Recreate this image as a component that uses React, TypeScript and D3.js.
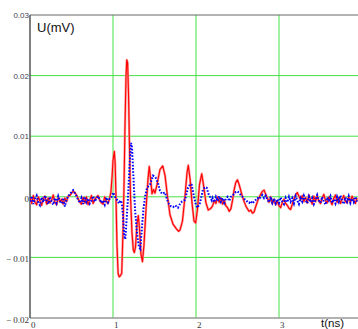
import React from "react";
import * as d3 from "d3";

const W = 358;
const H = 329;

const xTicks = [0, 1, 2, 3];
const yGrid = [0.02, 0.01, 0, -0.01];
const yTickValues = [0.03, 0.02, 0.01, 0, -0.01, -0.02];
const yTickLabels = ["0.03", "0.02", "0.01", "0", "\u2212 0.01", "\u2212 0.02"];

// Red trace U(t) (solid line)
const redSeries: [number, number][] = [
  [0.0, -0.0001], [0.02, -0.0011], [0.04, 0.0002], [0.06, -0.0009], [0.08, -0.0013], [0.1, 0.0],
  [0.12, -0.0007], [0.14, -0.0014], [0.16, -0.0003], [0.18, 0.0001], [0.2, -0.0012], [0.22, -0.0002],
  [0.24, -0.001], [0.26, -0.0006], [0.28, 0.0003], [0.3, -0.0009], [0.32, -0.0013], [0.34, -0.0001],
  [0.36, -0.0008], [0.38, -0.0004], [0.4, -0.0012], [0.42, -0.0002], [0.44, -0.0008], [0.46, 0.0001],
  [0.48, 0.0002], [0.5, 0.0006], [0.52, 0.0009], [0.54, 0.0007], [0.56, 0.0003], [0.58, -0.0003],
  [0.6, -0.0009], [0.62, -0.0012], [0.64, -0.0001], [0.66, -0.001], [0.68, 0.0], [0.7, -0.0013],
  [0.72, -0.0005], [0.74, 0.0002], [0.76, -0.0011], [0.78, -0.0004], [0.8, -0.0001], [0.82, 0.0002],
  [0.84, -0.0006], [0.86, -0.001], [0.88, -0.0012], [0.9, 0.0], [0.92, -0.0008], [0.94, -0.0011],
  [0.96, -0.0002], [0.975, 0.0008], [0.99, 0.0035], [1.0, 0.006], [1.016, 0.0075], [1.026, 0.0055],
  [1.036, 0.0], [1.048, -0.008], [1.062, -0.0127], [1.075, -0.0132], [1.09, -0.013], [1.105, -0.0126],
  [1.12, -0.006], [1.133, 0.002], [1.145, 0.012], [1.157, 0.02], [1.166, 0.0226], [1.176, 0.0221],
  [1.187, 0.017], [1.199, 0.008], [1.211, 0.0], [1.229, -0.006], [1.245, -0.0088], [1.257, -0.0092],
  [1.271, -0.0083], [1.289, -0.0045], [1.305, -0.0031], [1.319, -0.0052], [1.337, -0.0095], [1.355, -0.0107],
  [1.373, -0.008], [1.398, -0.002], [1.422, 0.003], [1.437, 0.005], [1.452, 0.0032], [1.47, 0.0005],
  [1.488, 0.0012], [1.506, 0.0006], [1.53, 0.002], [1.566, 0.0045], [1.599, 0.0051], [1.627, 0.0035],
  [1.657, 0.0], [1.687, -0.003], [1.723, -0.0045], [1.759, -0.0052], [1.79, -0.0057], [1.807, -0.0055],
  [1.837, -0.004], [1.867, 0.0], [1.892, 0.004], [1.907, 0.0052], [1.928, 0.003], [1.952, -0.001],
  [1.976, -0.004], [1.996, -0.0043], [2.018, -0.002], [2.042, 0.002], [2.069, 0.0038], [2.09, 0.002],
  [2.12, -0.001], [2.148, -0.0022], [2.18, -0.0019], [2.2, -0.0015], [2.22, -0.0006], [2.24, -0.0011],
  [2.26, 0.0], [2.28, -0.0009], [2.3, -0.0002], [2.32, -0.0012], [2.34, -0.0006], [2.36, -0.0015],
  [2.38, -0.0018], [2.4, -0.0024], [2.42, -0.002], [2.44, -0.0006], [2.46, 0.0012], [2.48, 0.0024],
  [2.5, 0.0028], [2.52, 0.002], [2.54, 0.001], [2.56, 0.0], [2.58, -0.0008], [2.6, -0.0015],
  [2.62, -0.002], [2.64, -0.0024], [2.66, -0.0022], [2.68, -0.0027], [2.7, -0.0025], [2.72, -0.0016],
  [2.74, -0.0008], [2.76, -0.0001], [2.78, 0.0004], [2.8, 0.0009], [2.82, 0.0011], [2.84, 0.0004],
  [2.86, -0.0002], [2.88, -0.0009], [2.9, 0.0], [2.92, -0.0011], [2.94, -0.0004], [2.96, -0.0013],
  [2.98, -0.0007], [3.0, -0.0015], [3.02, -0.0018], [3.04, -0.0009], [3.06, -0.0004], [3.08, -0.0011],
  [3.1, -0.0014], [3.12, -0.0019], [3.14, -0.0021], [3.16, -0.0012], [3.18, -0.0004], [3.2, 0.0003],
  [3.22, 0.0007], [3.24, 0.0001], [3.26, -0.0005], [3.28, 0.0002], [3.3, -0.0008], [3.32, -0.0001],
  [3.34, -0.001], [3.36, 0.0003], [3.38, -0.0005], [3.4, -0.0012], [3.42, 0.0001], [3.44, -0.0008],
  [3.46, 0.0002], [3.48, -0.0007], [3.5, -0.0011], [3.52, -0.0002], [3.54, 0.0004], [3.56, -0.0006],
  [3.58, -0.001], [3.6, 0.0], [3.62, -0.0007], [3.64, -0.0013], [3.66, -0.0002], [3.68, 0.0003],
  [3.7, -0.0009], [3.72, -0.0001], [3.74, -0.0011], [3.76, -0.0004], [3.78, 0.0002], [3.8, -0.0008],
  [3.82, -0.001], [3.84, 0.0], [3.86, -0.0009], [3.88, 0.0001], [3.9, -0.0005], [3.92, -0.0011],
  [3.94, -0.0002],
];

// Blue trace U(t) (dotted)
const blueSeries: [number, number][] = [
  [0.0, -0.0008], [0.02, 0.0001], [0.04, -0.0012], [0.06, -0.0003], [0.08, 0.0002], [0.1, -0.001],
  [0.12, -0.0014], [0.14, -0.0001], [0.16, -0.0009], [0.18, 0.0002], [0.2, -0.0006], [0.22, -0.0012],
  [0.24, 0.0], [0.26, -0.0008], [0.28, -0.0013], [0.3, -0.0002], [0.32, -0.001], [0.34, 0.0001],
  [0.36, -0.0007], [0.38, -0.0011], [0.4, -0.0002], [0.42, -0.0016], [0.44, -0.0005], [0.46, 0.0001],
  [0.48, 0.0004], [0.5, 0.0008], [0.52, 0.0011], [0.54, 0.0006], [0.56, 0.0001], [0.58, -0.0005],
  [0.6, -0.001], [0.62, -0.0002], [0.64, -0.0012], [0.66, 0.0], [0.68, -0.0009], [0.7, -0.0003],
  [0.72, -0.0011], [0.74, -0.0006], [0.76, 0.0001], [0.78, -0.0008], [0.8, -0.0003], [0.82, 0.0001],
  [0.84, -0.0004], [0.86, -0.001], [0.88, -0.0006], [0.9, -0.0013], [0.92, -0.0001], [0.94, -0.0009],
  [0.96, -0.0003], [0.98, -0.0001], [1.003, 0.0007], [1.024, 0.0], [1.048, -0.0005], [1.072, -0.0011],
  [1.09, -0.0006], [1.105, -0.001], [1.12, -0.003], [1.136, -0.0065], [1.148, -0.007], [1.163, -0.004],
  [1.181, 0.0], [1.199, 0.005], [1.217, 0.0089], [1.229, 0.0082], [1.247, 0.003], [1.265, -0.002],
  [1.289, -0.006], [1.313, -0.0083], [1.329, -0.0086], [1.349, -0.005], [1.367, -0.002], [1.386, 0.0],
  [1.41, 0.0015], [1.446, 0.002], [1.482, 0.0035], [1.512, 0.0032], [1.542, 0.0023], [1.566, 0.001],
  [1.59, 0.0005], [1.627, 0.0007], [1.65, -0.0004], [1.675, -0.0012], [1.7, -0.0016], [1.723, -0.0017],
  [1.75, -0.0014], [1.783, -0.0018], [1.81, -0.0011], [1.831, -0.0008], [1.867, -0.0005], [1.904, 0.0015],
  [1.93, 0.0021], [1.948, 0.002], [1.976, 0.0], [2.0, -0.0014], [2.018, -0.0018], [2.048, -0.001],
  [2.084, 0.0012], [2.11, 0.0016], [2.129, 0.0015], [2.15, 0.0005], [2.169, 0.0], [2.19, -0.0006],
  [2.2, -0.0002], [2.22, -0.0009], [2.24, 0.0], [2.26, -0.0007], [2.28, 0.0001], [2.3, -0.0008],
  [2.32, -0.0002], [2.34, -0.001], [2.36, -0.0003], [2.38, 0.0], [2.4, -0.0007], [2.42, 0.0],
  [2.44, 0.0002], [2.46, 0.0005], [2.48, 0.0008], [2.5, 0.0009], [2.52, 0.0006], [2.54, 0.0003],
  [2.56, 0.0], [2.58, -0.0003], [2.6, -0.0006], [2.62, -0.0008], [2.64, -0.001], [2.66, -0.0007],
  [2.68, -0.0011], [2.7, -0.0008], [2.72, -0.0005], [2.74, -0.0002], [2.76, -0.0004], [2.78, 0.0],
  [2.8, 0.0003], [2.82, -0.0002], [2.84, 0.0002], [2.86, -0.0005], [2.88, -0.0009], [2.9, 0.0],
  [2.92, -0.001], [2.94, -0.0003], [2.96, -0.0011], [2.98, -0.0004], [3.0, -0.001], [3.02, -0.0001],
  [3.04, -0.0008], [3.06, -0.0012], [3.08, -0.0002], [3.1, -0.0009], [3.12, 0.0], [3.14, -0.0008],
  [3.16, -0.0002], [3.18, -0.0011], [3.2, 0.0001], [3.22, -0.0006], [3.24, -0.0012], [3.26, -0.0002],
  [3.28, -0.0008], [3.3, 0.0002], [3.32, -0.0005], [3.34, -0.0011], [3.36, 0.0], [3.38, -0.0009],
  [3.4, -0.0002], [3.42, -0.0012], [3.44, -0.0005], [3.46, 0.0003], [3.48, -0.0006], [3.5, -0.001],
  [3.52, 0.0], [3.54, -0.0008], [3.56, -0.0013], [3.58, -0.0001], [3.6, -0.0006], [3.62, 0.0001],
  [3.64, -0.001], [3.66, -0.0004], [3.68, -0.0011], [3.7, 0.0], [3.72, -0.0008], [3.74, 0.0002],
  [3.76, -0.0007], [3.78, -0.0012], [3.8, -0.0001], [3.82, -0.0008], [3.84, 0.0001], [3.86, -0.001],
  [3.88, -0.0003], [3.9, -0.0009], [3.92, 0.0], [3.94, -0.0008],
];

const LEFT = 30;
const TOP = 15;
const BOTTOM = 318;

export default function App() {
  const x = d3.scaleLinear().domain([0, 4]).range([LEFT, 362]);
  const y = d3.scaleLinear().domain([-0.02, 0.03]).range([BOTTOM, TOP]);
  const line = d3
    .line<[number, number]>()
    .x((d) => x(d[0]))
    .y((d) => y(d[1]));

  const sans = "'Liberation Sans', Arial, sans-serif";
  const serif = "'Liberation Serif', 'Times New Roman', serif";

  return (
    <svg
      width={W}
      height={H}
      style={{ position: "absolute", left: 0, top: 0, background: "#fff" }}
    >
      <defs>
        <clipPath id="plot">
          <rect x={LEFT} y={TOP} width={W - LEFT} height={BOTTOM - TOP} />
        </clipPath>
      </defs>
      {/* grid */}
      {yGrid.map((v) => (
        <line key={"gy" + v} x1={LEFT} x2={W} y1={y(v)} y2={y(v)} stroke="#44e044" strokeWidth={1} />
      ))}
      {xTicks.filter((t) => t > 0).map((t) => (
        <line key={"gx" + t} x1={x(t)} x2={x(t)} y1={TOP} y2={BOTTOM} stroke="#44e044" strokeWidth={1} />
      ))}
      {/* frame */}
      <line x1={LEFT} x2={W} y1={TOP} y2={TOP} stroke="#666" strokeWidth={1} />
      <line x1={LEFT} x2={W} y1={BOTTOM} y2={BOTTOM} stroke="#999" strokeWidth={1.5} />
      <line x1={LEFT} x2={LEFT} y1={TOP} y2={BOTTOM} stroke="#555" strokeWidth={1.5} />

      {/* traces */}
      <g clipPath="url(#plot)">
        <path d={line(redSeries) || ""} fill="none" stroke="#ff9a9a" strokeWidth={2.4} strokeLinejoin="round" />
        <path d={line(redSeries) || ""} fill="none" stroke="#ff0000" strokeWidth={1.1} strokeLinejoin="round" />
        <path
          d={line(blueSeries) || ""}
          fill="none"
          stroke="#0000ff"
          strokeWidth={2}
          strokeDasharray="1.6 1.6"
        />
      </g>

      {/* y tick labels */}
      {yTickValues.map((v, i) => (
        <text
          key={"yl" + v}
          x={29}
          y={y(v) + (v > 0 ? 3 : 5)}
          textAnchor="end"
          fontFamily={v > 0 ? sans : serif}
          fontSize={v > 0 ? 8 : 9}
          fill={v > 0 ? "#445" : "#333"}
        >
          {yTickLabels[i]}
        </text>
      ))}
      {/* x tick labels */}
      {xTicks.map((t) => (
        <text key={"xl" + t} x={x(t) + 1} y={328} fontFamily={serif} fontSize={9} fill="#333">
          {t}
        </text>
      ))}
      <text x={321} y={327} fontFamily={sans} fontSize={11.5} fill="#111">
        t(ns)
      </text>
      <text x={37} y={31.5} fontFamily={sans} fontSize={13} fill="#111">
        U(mV)
      </text>
    </svg>
  );
}
